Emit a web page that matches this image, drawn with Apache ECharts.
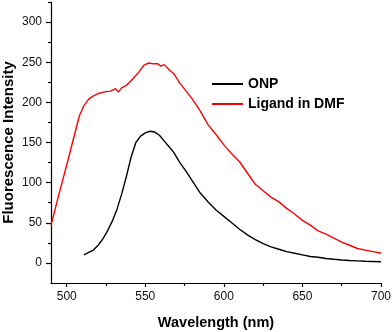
<!DOCTYPE html>
<html>
<head>
<meta charset="utf-8">
<script src="https://cdn.jsdelivr.net/npm/echarts@6/dist/echarts.min.js"></script>
<style>
  html, body { margin: 0; padding: 0; background: #fff; }
  #chart { width: 392px; height: 332px; }
</style>
</head>
<body>
<div id="chart"></div>
<script>
// Emission spectra: wavelength (nm) vs fluorescence intensity
const ligandWavelength = [490,495,500,505,508,511,514,517,520,524,528,531,533,535,538,542,546,549,552,555,558,560,562,565,568,572,576,580,585,590,595,600,605,610,615,620,625,630,635,640,645,650,655,660,665,670,675,680,685,690,695,700];
const ligandIntensity  = [47,85,122,160,183,196,204,208,211,213,214,217,213,218,221,229,238,246,249,248,248,245,247,241,236,224,214,204,189,172,160,147,136,126,112,98,90,82,76,68,61,53,47,40,36,31,26,22,18,16,14,12];

const onpWavelength = [511,514,517,520,523,526,529,532,535,538,541,544,547,550,553,556,559,562,565,568,572,576,580,585,590,595,600,605,610,615,620,625,630,635,640,645,650,655,660,665,670,675,680,685,690,695,700];
const onpIntensity  = [10,13,16,22,30,40,52,67,86,108,132,150,158,162,164,163,159,152,145,138,125,114,102,87,76,66,58,50,42,35,29,24,20,17,14,12,10,8,7,5.5,4.5,3.7,3,2.5,2,1.8,1.5];

const xMajorTicks = [500,550,600,650,700];
const xMinorTicks = [525,575,625,675];
const yMajorTicks = [0,50,100,150,200,250,300];
const yMinorTicks = [25,75,125,175,225,275,325];

const seriesNames = ['ONP', 'Ligand in DMF'];

const pairs = (xs, ys) => xs.map((x, i) => [x, ys[i]]);

const FONT = 'Arial, "Liberation Sans", sans-serif';
const X_MIN = 490, X_MAX = 700, Y_MIN = -25, Y_MAX = 325;

const chart = echarts.init(document.getElementById('chart'), null, { renderer: 'canvas' });

const axisLineStyle = { color: '#000', width: 1.2 };

chart.setOption({
  animation: false,
  backgroundColor: '#fff',
  grid: { left: 51, right: 11, top: 2, bottom: 49, containLabel: false, outerBoundsMode: 'none' },
  legend: {
    data: seriesNames.map(n => ({ name: n, icon: 'rect' })),
    orient: 'vertical',
    left: 212,
    top: 76,
    padding: 0,
    itemWidth: 31,
    itemHeight: 2,
    itemGap: 4,
    textStyle: { fontFamily: FONT, fontSize: 14, fontWeight: 'bold', color: '#000', lineHeight: 16 }
  },
  xAxis: [
    {
      type: 'value', min: X_MIN, max: X_MAX, position: 'bottom',
      name: 'Wavelength (nm)', nameLocation: 'middle', nameGap: 32,
      nameTextStyle: { fontFamily: FONT, fontSize: 14.5, fontWeight: 'bold', color: '#000' },
      axisLine: { show: true, onZero: false, lineStyle: axisLineStyle },
      axisTick: { show: true, length: 4, customValues: xMajorTicks, lineStyle: axisLineStyle },
      axisLabel: { customValues: xMajorTicks, margin: 8, fontFamily: FONT, fontSize: 12, color: '#111' },
      splitLine: { show: false }
    },
    {
      type: 'value', min: X_MIN, max: X_MAX, position: 'bottom',
      axisLine: { show: false, onZero: false },
      axisTick: { show: true, length: 3, customValues: xMinorTicks, lineStyle: axisLineStyle },
      axisLabel: { show: false },
      splitLine: { show: false }
    }
  ],
  yAxis: [
    {
      type: 'value', min: Y_MIN, max: Y_MAX, position: 'left',
      name: 'Fluorescence Intensity', nameLocation: 'middle', nameGap: 35, nameMoveOverlap: false,
      nameTextStyle: { fontFamily: FONT, fontSize: 15, fontWeight: 'bold', color: '#000' },
      axisLine: { show: true, onZero: false, lineStyle: axisLineStyle },
      axisTick: { show: true, length: 5, customValues: yMajorTicks, lineStyle: axisLineStyle },
      axisLabel: { customValues: yMajorTicks, margin: 9, fontFamily: FONT, fontSize: 12, color: '#111' },
      splitLine: { show: false }
    },
    {
      type: 'value', min: Y_MIN, max: Y_MAX, position: 'left',
      axisLine: { show: false, onZero: false },
      axisTick: { show: true, length: 3, customValues: yMinorTicks, lineStyle: axisLineStyle },
      axisLabel: { show: false },
      splitLine: { show: false }
    }
  ],
  series: [
    {
      name: seriesNames[0], type: 'line', xAxisIndex: 0, yAxisIndex: 0,
      data: pairs(onpWavelength, onpIntensity),
      symbol: 'none', smooth: false,
      lineStyle: { color: '#000', width: 1.4 },
      itemStyle: { color: '#000' }
    },
    {
      name: seriesNames[1], type: 'line', xAxisIndex: 0, yAxisIndex: 0,
      data: pairs(ligandWavelength, ligandIntensity),
      symbol: 'none', smooth: false,
      lineStyle: { color: '#ff0000', width: 1.4 },
      itemStyle: { color: '#ff0000' }
    }
  ]
});
</script>
</body>
</html>
